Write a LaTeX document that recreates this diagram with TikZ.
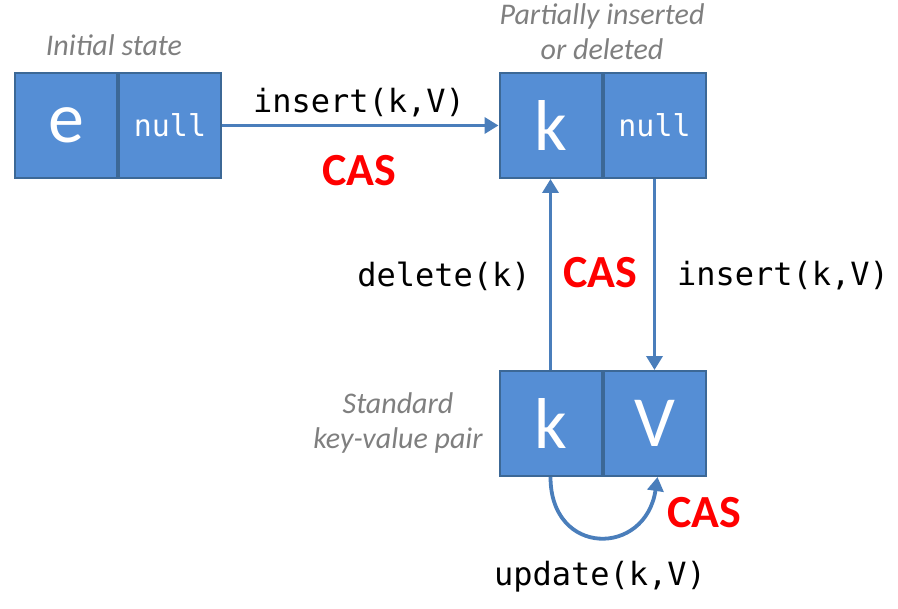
\documentclass[tikz,border=0pt]{standalone}
\usepackage{fontspec}
\setmainfont{Carlito}
\newfontfamily\codefont{DejaVu Sans Mono}
\usetikzlibrary{positioning,arrows.meta}
\definecolor{cellfill}{RGB}{85,142,213}
\definecolor{celledge}{RGB}{60,104,150}
\definecolor{linkblue}{RGB}{74,126,187}
\definecolor{notegray}{RGB}{127,127,127}

\begin{document}
\begin{tikzpicture}[x=0.5pt,y=-0.5pt,
    cell/.style={draw=celledge,line width=1pt,fill=cellfill,text=white,
      minimum width=51pt,minimum height=52.5pt,inner sep=0pt},
    keytext/.style={font=\fontsize{36}{36}\selectfont},
    nulltext/.style={font=\codefont\fontsize{15}{15}\selectfont},
    link/.style={draw=linkblue,line width=1.9pt,-{Triangle[length=7pt,width=8pt]}},
    code/.style={font=\codefont\fontsize{16}{16}\selectfont},
    cas/.style={text=red,font=\bfseries\fontsize{23}{23}\selectfont},
    note/.style={text=notegray,font=\itshape\fontsize{15}{17.5}\selectfont,align=center}]
  \useasboundingbox (0,0) rectangle (898,609);
  % initial state
  \node[cell,keytext] (e1) at (66,125.5) {e};
  \node[cell,nulltext,right=0pt of e1] (n1) {null};
  \node[note] (initial) at (114,45) {Initial state};
  % partially inserted or deleted
  \node[cell,keytext] (k2) at (550.5,125.5) {k};
  \node[cell,nulltext,right=0pt of k2] (n2) {null};
  \node[note] (partial) at (602,32) {Partially inserted\\or deleted};
  % standard pair
  \node[cell,keytext] (k3) at (550.5,423.5) {k};
  \node[cell,keytext,right=0pt of k3] (v3) {V};
  \node[note] (standard) at (398,423) {Standard\\key-value pair};
  % transitions
  \draw[link] (n1.east) -- (k2.west);
  \node[code] (ins1) at (359,103) {insert(k,V)};
  \node[cas] (cas1) at (359,171) {CAS};
  \draw[link] (k3.north) -- (k2.south);
  \node[code] (del) at (444,276) {delete(k)};
  \draw[link] (n2.south) -- (v3.south |- v3.north);
  \node[code] (ins2) at (783,276) {insert(k,V)};
  \node[cas] (cas2) at (600,273) {CAS};
  \draw[link] (k3.south) .. controls +(0,80) and +(-12,80) .. ([xshift=1.5pt]v3.south);
  \node[cas] (cas3) at (704,513) {CAS};
  \node[code] (upd) at (600,577) {update(k,V)};
\end{tikzpicture}
\end{document}
